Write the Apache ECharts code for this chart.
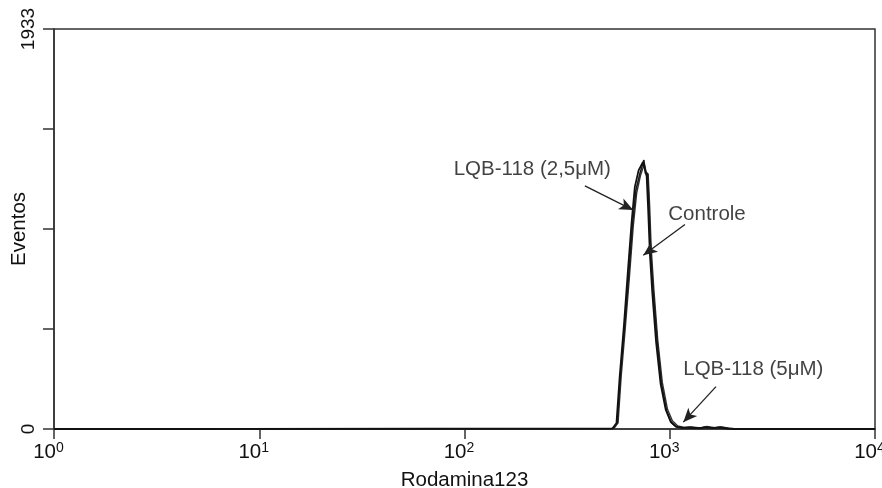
<!DOCTYPE html>
<html>
<head>
<meta charset="utf-8">
<script src="https://cdn.jsdelivr.net/npm/echarts@6/dist/echarts.min.js"></script>
<style>html,body{margin:0;padding:0;background:#fff}#c{width:882px;height:488px}</style>
</head>
<body>
<div id="c"></div>
<script>
// ---- data ----
const seriesNames = ['Controle', 'LQB-118 (2,5μM)', 'LQB-118 (5μM)'];
const controleX = [1, 530, 555, 576, 604, 632, 659, 684, 715, 748, 762, 780, 792, 806, 830, 868, 912, 965, 1020, 1080, 1163, 1255, 1403, 1501, 1625, 1758, 1923, 2102, 10000];
const controleY = [0, 3, 31, 265, 507, 750, 992, 1153, 1234, 1300, 1234, 1236, 1072, 862, 669, 426, 217, 87, 31, 10, 6, 8, 3, 10, 4, 9, 3, 0, 0];
const lqb25X = [1, 525, 550, 570, 598, 625, 652, 676, 705, 740, 755, 772, 785, 800, 822, 858, 902, 955, 1010, 1070, 1150, 1240, 1380, 1480, 1600, 1740, 1900, 2080, 10000];
const lqb25Y = [0, 2, 28, 250, 500, 760, 1000, 1170, 1250, 1290, 1260, 1220, 1060, 850, 660, 420, 220, 95, 35, 12, 5, 6, 4, 8, 5, 7, 2, 0, 0];
const lqb5X = [1, 535, 560, 580, 608, 636, 664, 690, 720, 752, 768, 785, 798, 812, 836, 874, 920, 975, 1030, 1095, 1180, 1270, 1420, 1520, 1650, 1780, 1950, 2120, 10000];
const lqb5Y = [0, 3, 30, 255, 495, 735, 980, 1140, 1225, 1280, 1240, 1230, 1080, 875, 680, 430, 225, 95, 40, 15, 8, 10, 5, 12, 6, 10, 4, 0, 0];

const yMax = 1933;
const yTickLabels = ['0', '1933'];

// annotations: label text, label anchor (data), arrow start and end (data)
const annText = ['LQB-118 (2,5μM)', 'Controle', 'LQB-118 (5μM)'];
const annLabelX = [214, 1519, 2554];
const annLabelY = [1255, 1035, 287];
const annFromX = [386, 1186, 1680];
const annFromY = [1175, 988, 205];
const annToX = [664, 743, 1164];
const annToY = [1058, 840, 33];

// ---- chart ----
const pairs = (xs, ys) => xs.map((x, i) => [x, ys[i]]);
const lineColor = '#333';
const textColor = '#111';
const font = 'Liberation Sans, Arial, sans-serif';

const chart = echarts.init(document.getElementById('c'), null, {renderer: 'canvas'});

const arrowData = annText.map((t, i) => [
  {coord: [annFromX[i], annFromY[i]], symbol: 'none'},
  {coord: [annToX[i], annToY[i]], symbol: 'arrow'}
]);

chart.setOption({
  animation: false,
  backgroundColor: '#fff',
  grid: {left: 54, right: 7, top: 29, bottom: 59, show: true, borderColor: lineColor, borderWidth: 1.5,
         containLabel: false, outerBoundsMode: 'none'},
  xAxis: {
    type: 'log', logBase: 10, min: 1, max: 10000,
    name: 'Rodamina123', nameLocation: 'middle', nameGap: 41, nameMoveOverlap: false,
    nameTextStyle: {fontFamily: font, fontSize: 20.5, color: textColor},
    axisLine: {lineStyle: {color: lineColor, width: 1.5}},
    axisTick: {length: 10, lineStyle: {color: lineColor, width: 1.5}},
    minorTick: {show: false},
    splitLine: {show: false},
    axisLabel: {
      margin: 12, align: 'center', padding: [0, 11, 0, 0],
      formatter: v => '{b|10}{s|' + Math.round(Math.log10(v)) + '}',
      rich: {
        b: {fontFamily: font, fontSize: 20.5, color: textColor},
        s: {fontFamily: font, fontSize: 14, color: textColor, verticalAlign: 'top', padding: [0, 0, 8, 0]}
      }
    }
  },
  yAxis: {
    type: 'value', min: 0, max: yMax, interval: yMax / 4,
    name: 'Eventos', nameLocation: 'middle', nameGap: 24, nameMoveOverlap: false,
    nameTextStyle: {fontFamily: font, fontSize: 20.5, color: textColor},
    axisLine: {show: true, lineStyle: {color: lineColor, width: 1.5}},
    axisTick: {show: true, length: 11, lineStyle: {color: lineColor, width: 1.5}},
    splitLine: {show: false},
    axisLabel: {
      rotate: 90, margin: 16,
      fontFamily: font, fontSize: 19, color: textColor,
      formatter: v => (v === 0 ? yTickLabels[0] : (Math.abs(v - yMax) < 0.5 ? yTickLabels[1] : ''))
    }
  },
  series: [
    {name: seriesNames[0], type: 'line', data: pairs(controleX, controleY), symbol: 'none', lineStyle: {color: '#1a1a1a', width: 1.6}, z: 3},
    {name: seriesNames[1], type: 'line', data: pairs(lqb25X, lqb25Y), symbol: 'none', lineStyle: {color: '#111', width: 1.8}, z: 4,
      markLine: {
        silent: true, symbolSize: [9, 14],
        lineStyle: {color: '#222', width: 1.3, type: 'solid'},
        label: {show: false},
        data: arrowData
      }
    },
    {name: seriesNames[2], type: 'line', data: pairs(lqb5X, lqb5Y), symbol: 'none', lineStyle: {color: '#333', width: 1.4}, z: 2},
    {name: 'annotations', type: 'scatter', symbolSize: 0, silent: true,
      data: annText.map((t, i) => ({value: [annLabelX[i], annLabelY[i]], name: t})),
      label: {show: true, position: 'inside', formatter: p => p.name, fontFamily: font, fontSize: 20.5,
              color: textColor, textBorderWidth: 0}
    }
  ]
});
</script>
</body>
</html>
